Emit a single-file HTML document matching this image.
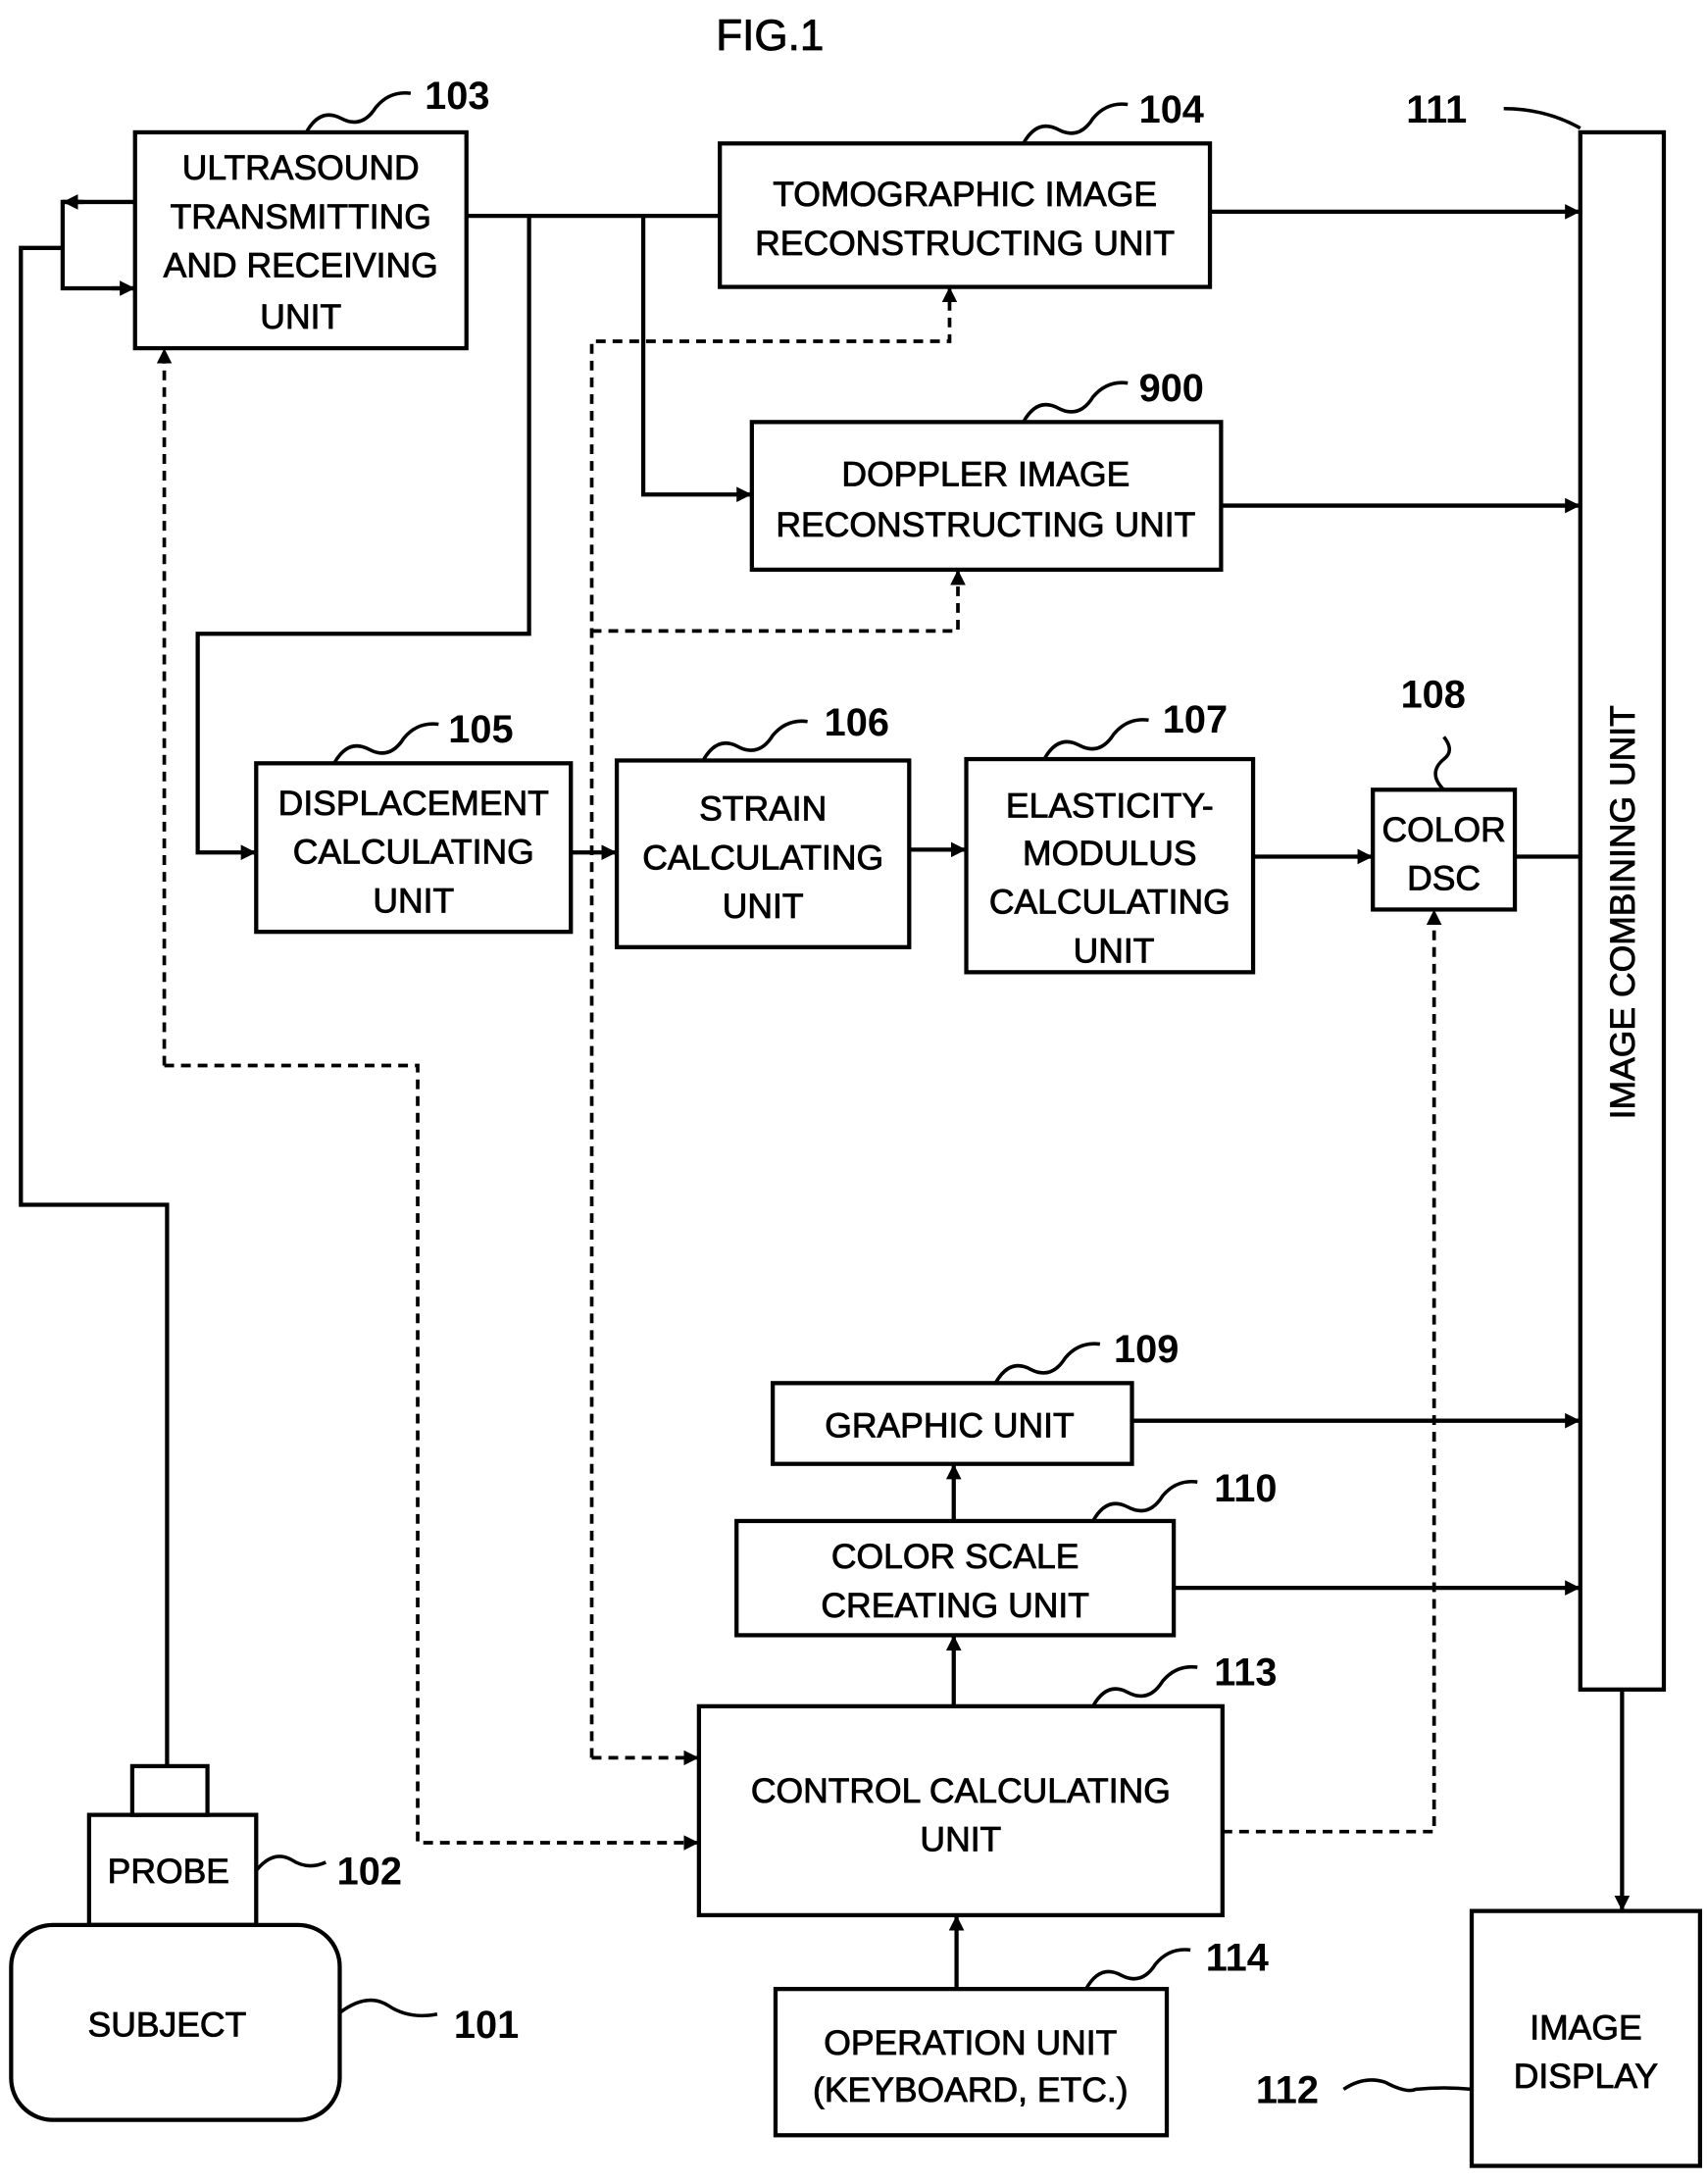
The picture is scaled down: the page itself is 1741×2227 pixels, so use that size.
<!DOCTYPE html>
<html><head><meta charset="utf-8"><style>
html,body{margin:0;padding:0;background:#fff;}
svg{display:block;}
text{font-family:"Liberation Sans",sans-serif;fill:#000;}
.t{font-size:25px;text-anchor:middle;stroke:#000;stroke-width:0.6;}
.n{font-size:28px;font-weight:bold;text-anchor:start;}
</style></head><body>
<svg width="1741" height="2227" viewBox="0 0 1226 1568" preserveAspectRatio="none" xmlns="http://www.w3.org/2000/svg">
<defs>
<marker id="a" viewBox="0 0 10 10" refX="10" refY="5" markerWidth="11" markerHeight="11" markerUnits="userSpaceOnUse" orient="auto"><path d="M0,0 L10,5 L0,10 z" fill="#000"/></marker>
</defs>
<g fill="none" stroke="#000" stroke-width="3">
<rect x="97" y="95" width="238" height="155"/>
<rect x="517" y="103" width="352" height="103"/>
<rect x="540" y="303" width="337" height="106"/>
<rect x="1135" y="95" width="60" height="1118"/>
<rect x="184" y="548" width="226" height="121"/>
<rect x="443" y="546" width="210" height="134"/>
<rect x="694" y="545" width="206" height="153"/>
<rect x="986" y="567" width="102" height="86"/>
<rect x="555" y="993" width="258" height="58"/>
<rect x="529" y="1092" width="314" height="82"/>
<rect x="502" y="1225" width="376" height="150"/>
<rect x="557" y="1428" width="281" height="105"/>
<rect x="1057" y="1372" width="164" height="183"/>
<rect x="95" y="1268" width="54" height="35"/>
<rect x="64" y="1303" width="120" height="79"/>
<rect x="8" y="1382" width="236" height="140" rx="30"/>
<polyline points="120,1268 120,865 15,865 15,178 45,178"/>
<polyline points="97,145 45,145 45,207 97,207" />
<line x1="60" y1="145" x2="45" y2="145" marker-end="url(#a)"/>
<line x1="80" y1="207" x2="97" y2="207" marker-end="url(#a)"/>
<line x1="335" y1="155" x2="517" y2="155"/>
<polyline points="462,155 462,355 540,355" marker-end="url(#a)"/>
<polyline points="380,155 380,455 142,455 142,612 184,612" marker-end="url(#a)"/>
<line x1="869" y1="152" x2="1135" y2="152" marker-end="url(#a)"/>
<line x1="877" y1="363" x2="1135" y2="363" marker-end="url(#a)"/>
<line x1="410" y1="612" x2="443" y2="612" marker-end="url(#a)"/>
<line x1="653" y1="610" x2="694" y2="610" marker-end="url(#a)"/>
<line x1="900" y1="615" x2="986" y2="615" marker-end="url(#a)"/>
<line x1="1088" y1="615" x2="1135" y2="615"/>
<line x1="813" y1="1020" x2="1135" y2="1020" marker-end="url(#a)"/>
<line x1="843" y1="1140" x2="1135" y2="1140" marker-end="url(#a)"/>
<line x1="685" y1="1092" x2="685" y2="1051" marker-end="url(#a)"/>
<line x1="685" y1="1225" x2="685" y2="1174" marker-end="url(#a)"/>
<line x1="687" y1="1428" x2="687" y2="1375" marker-end="url(#a)"/>
<line x1="1165" y1="1213" x2="1165" y2="1372" marker-end="url(#a)"/>
</g>
<g fill="none" stroke="#000" stroke-width="2.5">
<path d="M220,95 q10,-18 25,-10 q15,8 25,-8 q10,-12 25,-10"/>
<path d="M735,103 q10,-18 25,-10 q15,8 25,-8 q10,-12 25,-10"/>
<path d="M735,303 q10,-18 25,-10 q15,8 25,-8 q10,-12 25,-10"/>
<path d="M240,548 q10,-18 25,-10 q15,8 25,-8 q10,-12 25,-10"/>
<path d="M505,546 q10,-18 25,-10 q15,8 25,-8 q10,-12 25,-10"/>
<path d="M750,545 q10,-18 25,-10 q15,8 25,-8 q10,-12 25,-10"/>
<path d="M715,993 q10,-18 25,-10 q15,8 25,-8 q10,-12 25,-10"/>
<path d="M785,1092 q10,-18 25,-10 q15,8 25,-8 q10,-12 25,-10"/>
<path d="M785,1225 q10,-18 25,-10 q15,8 25,-8 q10,-12 25,-10"/>
<path d="M780,1428 q10,-18 25,-10 q15,8 25,-8 q10,-12 25,-10"/>
<path d="M1037,567 q-12,-12 0,-22 q8,-6 0,-16"/>
<path d="M1080,78 q30,0 55,14"/>
<path d="M184,1343 q12,-15 25,-8 q12,8 25,2"/>
<path d="M244,1445 q20,-15 35,-5 q15,10 35,6"/>
<path d="M965,1500 q15,-10 30,-5 q15,8 22,5 q20,-2 40,0"/>
</g>
<g fill="none" stroke="#000" stroke-width="2.6" stroke-dasharray="7,5">
<polyline points="118,765 118,250" marker-end="url(#a)"/>
<polyline points="118,765 300,765 300,1323 502,1323" marker-end="url(#a)"/>
<polyline points="425,1262 502,1262" marker-end="url(#a)"/>
<polyline points="425,1262 425,245 682,245 682,206" marker-end="url(#a)"/>
<polyline points="425,453 688,453 688,409" marker-end="url(#a)"/>
<polyline points="878,1315 1030,1315 1030,653" marker-end="url(#a)"/>
</g>
<text x="553" y="36" class="t" style="font-size:31px">FIG.1</text>
<text class="t" x="216" y="129">ULTRASOUND</text>
<text class="t" x="216" y="164">TRANSMITTING</text>
<text class="t" x="216" y="199">AND RECEIVING</text>
<text class="t" x="216" y="236">UNIT</text>
<text class="t" x="693" y="148">TOMOGRAPHIC IMAGE</text>
<text class="t" x="693" y="183">RECONSTRUCTING UNIT</text>
<text class="t" x="708" y="349">DOPPLER IMAGE</text>
<text class="t" x="708" y="385">RECONSTRUCTING UNIT</text>
<text class="t" x="297" y="585">DISPLACEMENT</text>
<text class="t" x="297" y="620">CALCULATING</text>
<text class="t" x="297" y="655">UNIT</text>
<text class="t" x="548" y="589">STRAIN</text>
<text class="t" x="548" y="624">CALCULATING</text>
<text class="t" x="548" y="659">UNIT</text>
<text class="t" x="797" y="587">ELASTICITY-</text>
<text class="t" x="797" y="621">MODULUS</text>
<text class="t" x="797" y="656">CALCULATING</text>
<text class="t" x="800" y="691">UNIT</text>
<text class="t" x="1037" y="604">COLOR</text>
<text class="t" x="1037" y="639">DSC</text>
<text class="t" x="682" y="1032">GRAPHIC UNIT</text>
<text class="t" x="686" y="1126">COLOR SCALE</text>
<text class="t" x="686" y="1161">CREATING UNIT</text>
<text class="t" x="690" y="1294">CONTROL CALCULATING</text>
<text class="t" x="690" y="1329">UNIT</text>
<text class="t" x="697" y="1475">OPERATION UNIT</text>
<text class="t" x="697" y="1509">(KEYBOARD, ETC.)</text>
<text class="t" x="1139" y="1464">IMAGE</text>
<text class="t" x="1139" y="1499">DISPLAY</text>
<text class="t" x="121" y="1352">PROBE</text>
<text class="t" x="120" y="1462">SUBJECT</text>
<text class="t" transform="translate(1174,655) rotate(-90)" x="0" y="0">IMAGE COMBINING UNIT</text>
<text class="n" x="305" y="78">103</text>
<text class="n" x="818" y="88">104</text>
<text class="n" x="818" y="288">900</text>
<text class="n" x="1010" y="88">111</text>
<text class="n" x="322" y="533">105</text>
<text class="n" x="592" y="528">106</text>
<text class="n" x="835" y="526">107</text>
<text class="n" x="1006" y="508">108</text>
<text class="n" x="800" y="978">109</text>
<text class="n" x="872" y="1078">110</text>
<text class="n" x="872" y="1210">113</text>
<text class="n" x="866" y="1415">114</text>
<text class="n" x="242" y="1353">102</text>
<text class="n" x="326" y="1463">101</text>
<text class="n" x="902" y="1510">112</text>
</svg>
</body></html>
